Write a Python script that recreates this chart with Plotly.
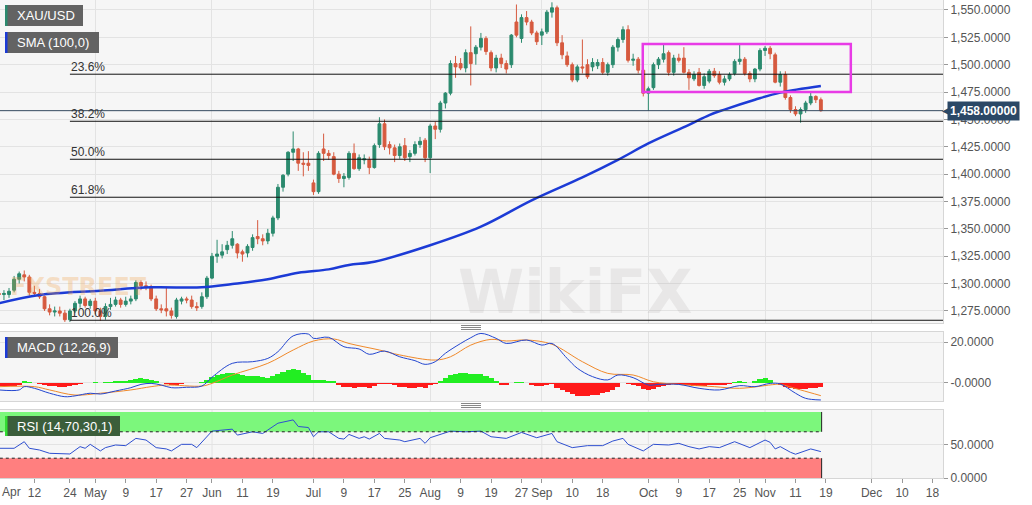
import pandas as pd
import plotly.graph_objects as go

# ---------------- DATA ----------------
opens = [1291,1290,1290,1294,1304,1308,1306,1292,1291,1288,1277,1274,1275,1273,1267,1275,1282,1286,1280,1284,
         1275,1270,1279,1281,1285,1281,1284,1286,1301,1298,1297,1286,1277,1277,1275,1270,1284,1286,1285,1279,
         1279,1288,1305,1325,1326,1331,1335,1336,1329,1328,1333,1343,1341,1339,1346,1360,1388,1400,1420,1423,
         1410,1410,1392,1384,1423,1419,1416,1400,1396,1397,1419,1405,1413,1413,1406,1427,1446,1427,1424,1417,
         1426,1416,1419,1427,1431,1415,1444,1441,1465,1474,1501,1501,1497,1511,1510,1516,1524,1511,1497,1506,
         1501,1500,1539,1524,1543,1539,1529,1527,1530,1548,1552,1520,1508,1500,1486,1498,1500,1498,1499,1502,
         1493,1500,1516,1523,1532,1504,1505,1495,1474,1479,1500,1505,1511,1493,1506,1506,1493,1487,1493,1481,
         1485,1494,1491,1484,1487,1492,1503,1505,1492,1487,1496,1513,1515,1509,1484,1491,1470,1459,1455,1459,
         1465,1471,1468]
highs = [1296,1294,1296,1307,1311,1312,1308,1298,1295,1289,1281,1279,1279,1276,1277,1284,1289,1288,1286,1287,
         1278,1282,1287,1288,1287,1288,1289,1303,1303,1302,1299,1289,1281,1297,1278,1287,1288,1288,1289,1283,
         1292,1307,1328,1340,1336,1339,1348,1337,1331,1336,1345,1358,1345,1350,1362,1391,1400,1421,1439,1424,
         1420,1421,1395,1421,1437,1422,1420,1403,1401,1421,1428,1418,1418,1416,1428,1452,1450,1430,1427,1428,
         1433,1422,1430,1434,1433,1446,1448,1467,1475,1504,1508,1506,1514,1535,1518,1529,1526,1513,1509,1510,
         1504,1528,1555,1546,1549,1541,1531,1533,1550,1557,1554,1527,1512,1502,1500,1523,1505,1506,1505,1506,
         1502,1518,1525,1535,1536,1510,1507,1497,1480,1502,1507,1518,1513,1509,1510,1516,1496,1494,1497,1492,
         1496,1497,1494,1490,1493,1505,1518,1507,1494,1497,1515,1517,1517,1511,1494,1494,1472,1462,1461,1467,
         1475,1472,1470]
lows = [1286,1285,1287,1292,1300,1302,1289,1289,1286,1275,1271,1270,1270,1265,1265,1273,1278,1278,1277,1272,
        1266,1267,1276,1279,1278,1279,1281,1284,1294,1294,1284,1275,1273,1270,1268,1268,1281,1282,1277,1275,
        1277,1286,1304,1319,1323,1327,1332,1323,1320,1324,1330,1336,1335,1336,1343,1358,1384,1398,1412,1403,
        1398,1403,1381,1382,1412,1413,1399,1392,1388,1395,1404,1403,1409,1400,1405,1424,1422,1418,1411,1414,
        1412,1411,1417,1424,1411,1401,1432,1438,1460,1472,1488,1495,1493,1481,1500,1513,1509,1494,1493,1497,
        1492,1497,1525,1520,1536,1527,1518,1518,1528,1543,1517,1505,1498,1484,1484,1492,1487,1494,1496,1491,
        1490,1497,1512,1520,1502,1499,1492,1471,1458,1477,1496,1502,1490,1490,1502,1492,1477,1485,1480,1478,
        1483,1488,1482,1481,1485,1490,1500,1490,1484,1484,1494,1508,1505,1483,1480,1468,1456,1453,1447,1456,
        1463,1465,1457]
closes = [1290,1291,1293,1304,1309,1306,1292,1291,1288,1277,1274,1275,1273,1267,1275,1282,1286,1280,1284,1275,
          1270,1279,1281,1285,1281,1284,1286,1301,1298,1297,1286,1277,1276,1275,1271,1285,1286,1285,1279,1278,
          1288,1305,1325,1327,1329,1335,1341,1328,1327,1334,1342,1341,1339,1346,1360,1388,1399,1420,1423,1410,
          1409,1408,1384,1419,1419,1417,1400,1396,1398,1419,1405,1415,1414,1406,1426,1446,1425,1424,1417,1425,
          1415,1419,1427,1430,1415,1444,1441,1465,1474,1501,1498,1497,1511,1501,1516,1524,1512,1497,1506,1501,
          1496,1527,1527,1543,1539,1529,1521,1530,1548,1552,1520,1509,1500,1486,1498,1497,1489,1502,1502,1493,
          1500,1516,1523,1532,1504,1505,1495,1474,1478,1500,1505,1510,1493,1506,1504,1493,1488,1491,1481,1489,
          1494,1490,1484,1487,1491,1503,1505,1492,1487,1496,1513,1515,1510,1484,1491,1470,1459,1455,1459,1465,
          1471,1468,1458]

sma_idx = [0, 8, 20, 30, 40, 46, 53, 59, 65, 69, 74, 85, 95, 105, 115, 122, 128, 136, 140, 143, 149, 154, 162]
sma_val = [1282, 1289.6, 1293.5, 1296.6, 1296.6, 1299.6, 1304, 1310, 1313, 1317, 1320, 1335, 1352, 1376, 1397,
           1413, 1428, 1445, 1454, 1459, 1468, 1474.5, 1480.5]

macd_idx = [0, 4, 5, 7, 10, 13, 15, 18, 20, 23, 26, 28, 30, 32, 34, 37, 40, 42, 46, 50, 53, 55, 58, 61, 62, 65,
            68, 71, 73, 76, 79, 82, 84, 86, 88, 91, 93, 95, 98, 100, 104, 107, 109, 112, 114, 117, 120, 122, 125,
            128, 130, 134, 138, 142, 146, 149, 152, 154, 157, 159, 162]
macd_val = [-3.4, -3.4, -1.8, -2.6, -5.0, -6.7, -6.3, -5.0, -5.4, -3.9, -2.3, -0.7, -0.2, -1.0, -2.3, -2.1, -1.5,
            2.8, 9.6, 10.4, 12.0, 15.3, 23.0, 23.9, 21.8, 22.3, 17.7, 16.6, 14.0, 15.6, 12.8, 10.9, 9.1, 10.4, 14.5,
            19.3, 22.1, 24.2, 21.8, 19.3, 21.0, 18.5, 19.3, 12.0, 7.2, 3.1, 1.5, 3.9, 2.6, -1.0, -0.7, -0.7, -2.6,
            -3.4, -1.3, -1.8, -0.2, -0.5, -5.0, -7.5, -8.3]
signal_idx = [0, 7, 10, 15, 20, 26, 30, 33, 40, 42, 46, 53, 58, 62, 66, 69, 75, 79, 86, 89, 93, 97, 100, 104,
              109, 115, 120, 125, 129, 134, 141, 146, 153, 154, 158, 162]
signal_val = [-1.8, -1.8, -3.4, -5.9, -5.0, -3.4, -1.8, -1.0, -1.5, -0.2, 3.9, 9.6, 16.1, 20.5, 21.5, 19.3, 16.1,
              13.7, 11.2, 12.8, 18.5, 21.3, 20.5, 21.0, 18.9, 10.4, 4.7, 3.9, 0.6, -0.7, -1.8, -2.6, -0.7, -0.7,
              -3.4, -6.2]
hist_val = [-1.4, -1.5, -1.6, -1.4, -1.0, 0.8, 0.5, 0.1, -0.6, -1.2, -1.5, -1.7, -1.8, -1.8, -1.6, -1.2, -0.6,
            -0.2, 0.2, 0.3, 0.1, 0.4, 0.6, 0.8, 0.9, 1.0, 1.3, 1.8, 2.2, 2.1, 1.6, 1.0, 0.2, -0.3, -0.8, -0.8,
            -0.3, -0.2, -0.1, -0.1, 0.5, 1.5, 3.0, 4.0, 4.6, 4.9, 4.9, 4.3, 3.7, 3.5, 3.4, 3.2, 2.8, 2.6, 3.2,
            4.3, 5.5, 6.4, 7.0, 6.2, 5.0, 3.8, 1.6, 1.5, 1.4, 1.2, 0.9, -1.2, -2.0, -2.1, -2.3, -2.2, -2.1, -2.3,
            -1.6, -0.4, -0.5, -0.6, -1.2, -1.8, -2.1, -2.3, -2.3, -2.1, -2.6, -1.0, -0.3, 1.0, 2.4, 4.0, 4.6, 4.8,
            4.7, 4.6, 4.5, 4.4, 3.6, 2.2, 1.0, -0.8, -1.0, -0.2, 0.3, 0.4, 0.2, -1.0, -1.5, -1.5, -0.8, -0.5,
            -2.5, -3.3, -4.5, -5.6, -6.2, -6.3, -6.2, -6.0, -5.8, -5.0, -4.4, -3.2, -1.8, -0.2, -0.6, -0.8, -1.6,
            -2.8, -3.6, -3.0, -2.0, -1.3, -1.0, -0.6, -0.4, -0.8, -1.1, -1.3, -1.4, -1.3, -1.2, -1.1, -1.1, -1.0,
            -0.6, 0.3, 0.8, 0.6, 0.1, 1.2, 2.0, 2.2, 1.6, 0.2, -1.0, -2.0, -2.6, -2.8, -2.8, -2.7, -2.5, -2.3, -2.1]

rsi_idx = [0, 3, 5, 6, 8, 10, 14, 16, 17, 18, 20, 21, 23, 25, 27, 29, 31, 33, 34, 36, 38, 39, 42, 46, 47, 50, 52,
           55, 58, 59, 61, 62, 63, 65, 67, 68, 69, 71, 72, 73, 75, 76, 79, 80, 83, 84, 85, 89, 92, 95, 97, 100,
           103, 106, 109, 110, 113, 116, 119, 121, 123, 124, 127, 129, 132, 134, 136, 138, 140, 142, 145, 148,
           151, 152, 153, 154, 156, 157, 160, 162]
rsi_val = [45, 45, 55, 45, 42.4, 37.4, 36.4, 47.5, 45, 51, 41, 46, 50, 49, 60, 57.5, 46, 44, 41, 51, 51, 46, 71,
           74, 65, 70, 67.5, 83, 88, 78, 76.5, 62.5, 70, 70, 60, 59, 66, 60, 62.5, 59, 67.5, 60, 57.5, 55, 60,
           52.5, 61, 71, 70, 71, 62.5, 60, 69, 61, 67.5, 55, 46, 49, 49, 56, 60, 51, 41, 51, 50, 52.5, 47.5, 44,
           47.5, 46, 55, 46, 57.5, 54, 44, 47.5, 39, 36, 44, 40]

fib_levels = [1491.3, 1448.3, 1413.6, 1378.9, 1266.5]
fib_labels = ["23.6%", "38.2%", "50.0%", "61.8%", "100.0%"]
fib_start = 14

box_x = [126.9, 167.9]
box_y = [1475, 1519]

tick_dates = ["2019-04-12", "2019-04-24", "2019-05-01", "2019-05-09", "2019-05-17", "2019-05-27", "2019-06-03",
              "2019-06-11", "2019-06-19", "2019-07-01", "2019-07-09", "2019-07-17", "2019-07-25", "2019-08-01",
              "2019-08-09", "2019-08-19", "2019-08-27", "2019-09-02", "2019-09-10", "2019-09-18", "2019-10-01",
              "2019-10-09", "2019-10-17", "2019-10-25", "2019-11-01", "2019-11-11", "2019-11-19", "2019-12-02",
              "2019-12-10", "2019-12-18"]
tick_labels = ["12", "24", "May", "9", "17", "27", "Jun", "11", "19", "Jul", "9", "17", "25", "Aug", "9", "19",
               "27", "Sep", "10", "18", "Oct", "9", "17", "25", "Nov", "11", "19", "Dec", "10", "18"]
month_names = {"May", "Jun", "Jul", "Aug", "Sep", "Oct", "Nov", "Dec"}

price_ticks = [1275, 1300, 1325, 1350, 1375, 1400, 1425, 1450, 1475, 1500, 1525, 1550]

# ---------------- LAYOUT CONSTANTS ----------------
W, H = 1032, 505
MR, MB = 89, 27
PW, PH = W - MR, H - MB

def fx(p):
    return p / PW

def fy(p):
    return 1 - p / PH

GREEN = "#2b8a6e"
RED = "#d65a3f"
GRID = "#e3e3e3"
BG = "#f6f6f6"
FONT = "Liberation Sans, Arial, sans-serif"

calendar = [d.strftime("%Y-%m-%d") for d in pd.bdate_range("2019-04-03", "2019-12-31")
            if d.strftime("%Y-%m-%d") != "2019-04-19"]
tick_pos = [calendar.index(d) for d in tick_dates]
month_pos = [p for p, t in zip(tick_pos, tick_labels) if t in month_names]
n = len(closes)
xi = list(range(n))
xrange_ = [0.22, 186.07]

fig = go.Figure()

fig.add_trace(go.Candlestick(
    x=xi, open=opens, high=highs, low=lows, close=closes, xaxis="x", yaxis="y",
    increasing=dict(line=dict(color=GREEN, width=1), fillcolor=GREEN),
    decreasing=dict(line=dict(color=RED, width=1), fillcolor=RED),
    showlegend=False, hoverinfo="skip"))
fig.add_trace(go.Scatter(x=sma_idx, y=sma_val, mode="lines", xaxis="x", yaxis="y",
                         line=dict(color="#1c3bd6", width=2.5, shape="spline"), showlegend=False, hoverinfo="skip"))

fig.add_trace(go.Bar(x=xi, y=hist_val, xaxis="x2", yaxis="y2", width=1.0,
                     marker=dict(color=["#22ee22" if v >= 0 else "#ff1a1a" for v in hist_val], line=dict(width=0)),
                     showlegend=False, hoverinfo="skip"))
fig.add_trace(go.Scatter(x=signal_idx, y=signal_val, mode="lines", xaxis="x2", yaxis="y2",
                         line=dict(color="#f0892a", width=1, shape="spline"), showlegend=False, hoverinfo="skip"))
fig.add_trace(go.Scatter(x=macd_idx, y=macd_val, mode="lines", xaxis="x2", yaxis="y2",
                         line=dict(color="#2346d0", width=1, shape="spline"), showlegend=False, hoverinfo="skip"))

fig.add_trace(go.Scatter(x=rsi_idx, y=rsi_val, mode="lines", xaxis="x3", yaxis="y3",
                         line=dict(color="#2e4fd0", width=1), showlegend=False, hoverinfo="skip"))

shapes = []
last = xi[-1] + 0.15
shapes.append(dict(type="rect", xref="x3", yref="y3", x0=-1, x1=last, y0=70, y1=100,
                   fillcolor="#7cf77c", line=dict(width=0), layer="below"))
shapes.append(dict(type="rect", xref="x3", yref="y3", x0=-1, x1=last, y0=0, y1=30,
                   fillcolor="#ff7f7f", line=dict(width=0), layer="below"))
for lv in (70, 30):
    shapes.append(dict(type="line", xref="x3", yref="y3", x0=-1, x1=last, y0=lv, y1=lv,
                       line=dict(color="#222", width=1, dash="dot")))
shapes.append(dict(type="line", xref="x3", yref="y3", x0=last, x1=last, y0=70, y1=100, line=dict(color="#222", width=1)))
shapes.append(dict(type="line", xref="x3", yref="y3", x0=last, x1=last, y0=0, y1=30, line=dict(color="#222", width=1)))
for p in month_pos:
    shapes.append(dict(type="line", xref="x3", yref="y3 domain", x0=p, x1=p, y0=0, y1=1,
                       line=dict(color=GRID, width=1), layer="below"))

for lv in fib_levels:
    shapes.append(dict(type="line", xref="x", yref="y", x0=fib_start, x1=xrange_[1], y0=lv, y1=lv,
                       line=dict(color="#111", width=1)))
shapes.append(dict(type="line", xref="paper", yref="y", x0=0, x1=1, y0=closes[-1], y1=closes[-1],
                   line=dict(color="#34495e", width=1)))
shapes.append(dict(type="rect", xref="x", yref="y", x0=box_x[0], x1=box_x[1], y0=box_y[0], y1=box_y[1],
                   line=dict(color="#e83be6", width=2.5), fillcolor="rgba(0,0,0,0)"))

def label_box(x0, x1, y0, y1, fill, stripe):
    shapes.append(dict(type="rect", xref="paper", yref="paper", x0=fx(x0), x1=fx(x1), y0=fy(y1), y1=fy(y0),
                       fillcolor=fill, line=dict(width=0), layer="above"))
    shapes.append(dict(type="rect", xref="paper", yref="paper", x0=fx(x0), x1=fx(x0 + 2.5), y0=fy(y1), y1=fy(y0),
                       fillcolor=stripe, line=dict(width=0), layer="above"))

label_box(5, 83, 5, 26, "#636363", GREEN)
label_box(5, 99, 32, 53, "#636363", "#1c3bd6")
label_box(5, 118, 337, 358, "#636363", "#1c3bd6")
label_box(5, 120, 416, 436, "#3b5e3b", "#33dd33")

for yy in (325.5, 327.5, 329.5, 403.5, 405.5, 407.5):
    shapes.append(dict(type="line", xref="paper", yref="paper", x0=fx(461), x1=fx(481), y0=fy(yy), y1=fy(yy),
                       line=dict(color="#888", width=1)))

ann = []
def txt(x, y, s, size=13, color="white", xref="paper", yref="paper", xanchor="left", yanchor="middle", **kw):
    ann.append(dict(x=x, y=y, xref=xref, yref=yref, text=s, showarrow=False, xanchor=xanchor, yanchor=yanchor,
                    font=dict(size=size, color=color, family=FONT), **kw))

txt(fx(15), fy(15.5), "XAU/USD")
txt(fx(15), fy(42.5), "SMA (100,0)")
txt(fx(15), fy(347.5), "MACD (12,26,9)")
txt(fx(15), fy(426), "RSI (14,70,30,1)")

for lv, lb in zip(fib_levels, fib_labels):
    txt(fib_start, lv, lb, size=12, color="#333", xref="x", yref="y", yanchor="bottom", xshift=-1, yshift=-2)

txt(fx(0), fy(492), "Apr", size=12, color="#555")

ann.append(dict(x=1, y=closes[-1], xref="paper", yref="y", text="<b>{:,.5f}</b>".format(closes[-1]),
                showarrow=False, xanchor="left", yanchor="middle", xshift=4, bgcolor="#2b4866",
                borderpad=2, font=dict(size=12, color="white", family=FONT)))
ann.append(dict(x=1, y=closes[-1], xref="paper", yref="y", text="◀", showarrow=False, xanchor="left",
                yanchor="middle", xshift=-3, font=dict(size=10, color="#2b4866", family="DejaVu Sans")))

ann.append(dict(x=fx(575), y=fy(292), xref="paper", yref="paper", text="<b>WikiFX</b>", showarrow=False,
                font=dict(size=60, color="rgba(150,140,140,0.14)", family="DejaVu Sans"), xanchor="center", yanchor="middle"))
ann.append(dict(x=fx(78), y=fy(287), xref="paper", yref="paper", text="<b>FXSTREET</b>", showarrow=False,
                font=dict(size=24, color="rgba(240,160,70,0.28)", family="DejaVu Sans"), xanchor="center", yanchor="middle"))

axis_common = dict(showline=True, mirror=True, linecolor="#d6d6d6", linewidth=1, zeroline=False)

fig.update_layout(
    width=W, height=H, margin=dict(l=0, r=MR, t=0, b=MB), paper_bgcolor="white", plot_bgcolor=BG,
    showlegend=False, boxgap=0.2, bargap=0, shapes=shapes, annotations=ann, hovermode=False,
    font=dict(family=FONT, size=12, color="#555"),
    xaxis=dict(domain=[0, 1], anchor="y", range=xrange_, tickmode="array", tickvals=month_pos,
               showticklabels=False, ticks="", showgrid=True, gridcolor=GRID, rangeslider=dict(visible=False),
               **axis_common),
    xaxis2=dict(domain=[0, 1], anchor="y2", matches="x", range=xrange_, tickmode="array", tickvals=month_pos,
                showticklabels=False, ticks="", showgrid=True, gridcolor=GRID, **axis_common),
    xaxis3=dict(domain=[0, 1], anchor="y3", matches="x", range=xrange_, tickmode="array", tickvals=tick_pos,
                ticktext=tick_labels, ticks="outside", ticklen=4, tickcolor="#999", showgrid=False,
                tickfont=dict(size=12, color="#555"), **axis_common),
    yaxis=dict(domain=[1 - 323 / PH, 1], anchor="x", side="right", range=[1264.0, 1559.1], tickmode="array",
               tickvals=price_ticks, tickformat=",.4f", ticks="outside", ticklen=4, tickcolor="#999",
               showgrid=True, gridcolor=GRID, tickfont=dict(size=12, color="#555"), **axis_common),
    yaxis2=dict(domain=[1 - 401 / PH, 1 - 332 / PH], anchor="x2", side="right", range=[-8.8, 24.9],
                tickmode="array", tickvals=[0, 20], ticktext=["-0.0000", "20.0000"], ticks="outside", ticklen=4,
                tickcolor="#999", showgrid=True, gridcolor=GRID, tickfont=dict(size=12, color="#555"), **axis_common),
    yaxis3=dict(domain=[0, 1 - 410 / PH], anchor="x3", side="right", range=[0, 103], tickmode="array",
                tickvals=[0, 50], tickformat=",.4f", ticks="outside", ticklen=4, tickcolor="#999",
                showgrid=True, gridcolor=GRID, tickfont=dict(size=12, color="#555"), **axis_common),
)

fig.write_html("out.html", config={"displayModeBar": False, "staticPlot": True},
               post_script="document.body.style.margin='0px';document.body.style.overflow='hidden';")
